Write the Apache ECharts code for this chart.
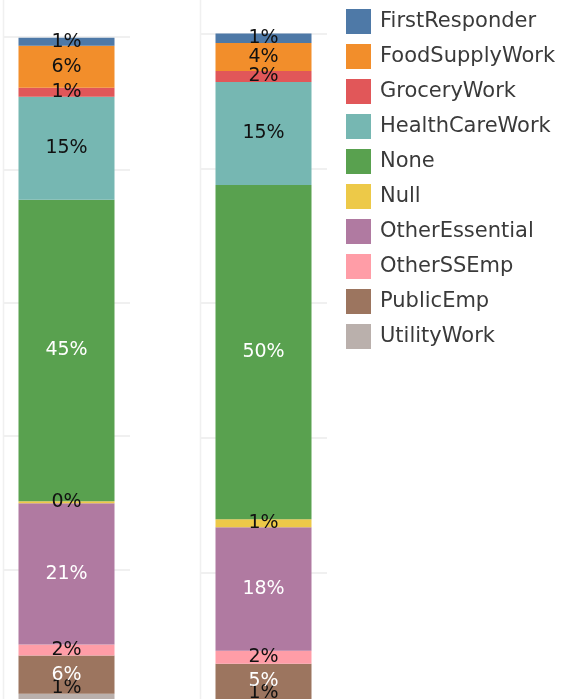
<!DOCTYPE html>
<html>
<head>
<meta charset="utf-8">
<script src="https://cdn.jsdelivr.net/npm/echarts@6/dist/echarts.min.js"></script>
<style>
  html, body { margin: 0; padding: 0; background: #fff; }
  #chart { width: 567px; height: 699px; }
</style>
</head>
<body>
<div id="chart"></div>
<script>
// categories, top of the bar first (same order as the legend)
const categories = ['FirstResponder', 'FoodSupplyWork', 'GroceryWork', 'HealthCareWork', 'None',
                    'Null', 'OtherEssential', 'OtherSSEmp', 'PublicEmp', 'UtilityWork'];
const colors = ['#4e79a7', '#f28e2b', '#e15759', '#76b7b2', '#59a14f',
                '#edc948', '#b07aa1', '#ff9da7', '#9c755f', '#bab0ac'];
// share in percent
const leftValues  = [1.2, 6.3, 1.35, 15.45, 45.3, 0.3, 21.2, 1.65, 5.75, 1.3];
const rightValues = [1.4, 4.15, 1.63, 15.3, 49.6, 1.19, 18.3, 1.93, 5.3, 1.2];
// labels drawn in white
const whiteLabels = ['None', 'OtherEssential', 'PublicEmp'];

let chart = echarts.init(document.getElementById('chart'));

function makeSeries(values, idx, stack) {
    let list = [];
    // echarts stacks from the bottom, so walk the categories backwards
    for (let i = categories.length - 1; i >= 0; i--) {
        let name = categories[i];
        list.push({
            name: name,
            type: 'bar',
            stack: stack,
            xAxisIndex: idx,
            yAxisIndex: idx,
            barWidth: 96,
            data: [values[i]],
            itemStyle: { color: colors[i] },
            label: {
                show: true,
                position: 'inside',
                offset: name === 'UtilityWork' ? [0, -10] : [0, 0],
                formatter: function (p) { return Math.round(p.value) + '%'; },
                color: whiteLabels.indexOf(name) >= 0 ? '#ffffff' : '#111111',
                fontFamily: 'DejaVu Sans',
                fontSize: 19
            },
            emphasis: { disabled: true }
        });
    }
    return list;
}

function valueAxis(idx) {
    return {
        type: 'value',
        gridIndex: idx,
        min: 0,
        max: 100,
        interval: 20,
        axisLabel: { show: false },
        axisLine: { show: false },
        axisTick: { show: false },
        splitLine: { show: true, lineStyle: { color: '#f0f0f0', width: 2 } }
    };
}

function catAxis(idx) {
    return {
        type: 'category',
        gridIndex: idx,
        data: ['all'],
        axisLabel: { show: false },
        axisLine: { show: false },
        axisTick: { show: false }
    };
}

chart.setOption({
    animation: false,
    grid: [
        { left: 3, top: 36.5, width: 127, height: 666, outerBoundsMode: 'none' },
        { left: 200, top: 33.5, width: 127, height: 674, outerBoundsMode: 'none' }
    ],
    xAxis: [catAxis(0), catAxis(1)],
    yAxis: [valueAxis(0), valueAxis(1)],
    legend: {
        data: categories,
        orient: 'vertical',
        left: 346,
        top: 9,
        padding: 0,
        icon: 'rect',
        itemWidth: 25,
        itemHeight: 25,
        itemGap: 10,
        textStyle: { color: '#3a3a3a', fontFamily: 'DejaVu Sans', fontSize: 21, padding: [0, 0, 0, 4] }
    },
    graphic: [
        { type: 'line', shape: { x1: 3.5, y1: 0, x2: 3.5, y2: 699 }, style: { stroke: '#f0f0f0', lineWidth: 1.5 } },
        { type: 'line', shape: { x1: 200.5, y1: 0, x2: 200.5, y2: 699 }, style: { stroke: '#f0f0f0', lineWidth: 1.5 } }
    ],
    series: makeSeries(leftValues, 0, 'left').concat(makeSeries(rightValues, 1, 'right'))
});
</script>
</body>
</html>
